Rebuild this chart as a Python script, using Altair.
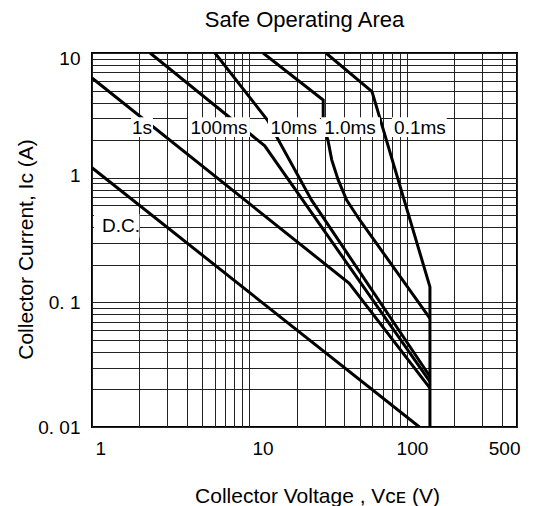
import altair as alt
import pandas as pd

# ---- curve data (Collector voltage V, collector current A) ----
dc_v = [1, 120]
dc_i = [1.2, 0.01]
s1_v = [1, 43, 140]
s1_i = [6.3, 0.142, 0.0205]
ms100_v = [2.34, 12.5, 140]
ms100_i = [10, 1.8, 0.0231]
ms10_v = [6.04, 13, 24.8, 140]
ms10_i = [10, 2.9, 0.66, 0.0254]
ms1_v = [12.2, 29.4, 29.4, 31.5, 33.3, 36.6, 41.4, 50, 140]
ms1_i = [10, 4.2, 2.6, 2.0, 1.39, 0.96, 0.66, 0.46, 0.0745]
ms01_v = [30.6, 60, 140, 140]
ms01_i = [10, 4.9, 0.133, 0.01]

# ---- curve labels ----
label_text = ["1s", "100ms", "10ms", "1.0ms", "0.1ms", "D.C."]
label_v = [2.08, 6.4, 19.1, 43.5, 121, 1.53]
label_i = [2.52, 2.52, 2.52, 2.52, 2.52, 0.41]
box_v1 = [1.77, 4.07, 13.1, 28.5, 80.2, 1.03]
box_v2 = [2.44, 10.07, 28.0, 67.4, 179, 2.0]
box_i1 = [2.12, 2.12, 2.12, 2.12, 2.12, 0.33]
box_i2 = [3.05, 3.05, 3.05, 3.05, 3.05, 0.51]

# ---- axes ----
x_grid = [1, 2, 3, 4, 5, 6, 7, 8, 9, 10, 20, 30, 40, 50, 60, 70, 80, 90, 100,
          200, 300, 400, 500]
y_grid = [0.01, 0.02, 0.03, 0.04, 0.05, 0.06, 0.07, 0.08, 0.09,
          0.1, 0.2, 0.3, 0.4, 0.5, 0.6, 0.7, 0.8, 0.9,
          1, 2, 3, 4, 5, 6, 7, 8, 9, 10]

FONT = "Liberation Sans"

curves = [("D.C.", dc_v, dc_i), ("1s", s1_v, s1_i), ("100ms", ms100_v, ms100_i),
          ("10ms", ms10_v, ms10_i), ("1.0ms", ms1_v, ms1_i), ("0.1ms", ms01_v, ms01_i)]
rows = []
for name, vs, cs in curves:
    for k, (v, c) in enumerate(zip(vs, cs)):
        rows.append({"series": name, "order": k, "V": v, "I": c})
df_lines = pd.DataFrame(rows)

df_labels = pd.DataFrame({"text": label_text, "V": label_v, "I": label_i,
                          "V1": box_v1, "V2": box_v2, "I1": box_i1, "I2": box_i2})

xscale = alt.Scale(type="log", domain=[1, 500], nice=False)
yscale = alt.Scale(type="log", domain=[0.01, 10], nice=False)

x_axis = alt.Axis(
    values=x_grid,
    title="Collector Voltage , V\u1d04\u1d07 (V)",
    labelExpr="datum.value == 1 || datum.value == 10 || datum.value == 100 || datum.value == 500 ? format(datum.value, 'd') : ''",
    labelFlush=True,
    labelOverlap=False,
    labelOffset={"condition": [{"test": "datum.value == 10", "value": 13},
                               {"test": "datum.value == 100", "value": 5},
                               {"test": "datum.value == 1", "value": 3},
                               {"test": "datum.value == 500", "value": 3}],
                 "value": 0},
    labelPadding=12,
    titleX=225,
    titleY=58,
)
y_axis = alt.Axis(
    values=y_grid,
    title="Collector Current, Ic (A)",
    labelExpr="datum.value == 10 ? '10' : datum.value == 1 ? '1' : datum.value == 0.1 ? '0. 1' : datum.value == 0.01 ? '0. 01' : ''",
    labelFlush=False,
    labelOverlap=False,
    labelOffset={"condition": [{"test": "datum.value == 10", "value": 5},
                               {"test": "datum.value == 1", "value": -2}],
                 "value": 0},
    labelPadding=12,
    titleX=-56,
    titleY=196,
)

X = alt.X("V:Q", scale=xscale, axis=x_axis)
Y = alt.Y("I:Q", scale=yscale, axis=y_axis)

lines = alt.Chart(df_lines).mark_line(color="black", strokeWidth=3, strokeJoin="miter", clip=True).encode(
    x=X, y=Y, detail="series:N", order="order:Q")

boxes = alt.Chart(df_labels).mark_rect(color="white", opacity=1).encode(
    x=alt.X("V1:Q", scale=xscale, axis=x_axis), x2="V2:Q",
    y=alt.Y("I1:Q", scale=yscale, axis=y_axis), y2="I2:Q")

texts = alt.Chart(df_labels).mark_text(font=FONT, fontSize=19, color="black", baseline="middle", align="center").encode(
    x=X, y=Y, text="text:N")

chart = alt.layer(lines, boxes, texts).properties(
    width=425, height=374,
    title=alt.TitleParams("Safe Operating Area", font=FONT, fontSize=22, fontWeight="normal",
                          anchor="middle", offset=17, color="black"),
    padding={"left": 84, "top": 45, "right": 14, "bottom": 79},
    autosize=alt.AutoSizeParams(type="none"),
).configure_view(stroke="black", strokeWidth=2).configure_axis(
    domain=False, ticks=False, grid=True, gridColor="#222", gridWidth=1, gridOpacity=1,
    labelFont=FONT, labelFontSize=19, labelColor="black",
    titleFont=FONT, titleFontSize=21, titleFontWeight="normal", titleColor="black",
)

chart.save("out.html", embed_options={"renderer": "svg", "actions": False})
